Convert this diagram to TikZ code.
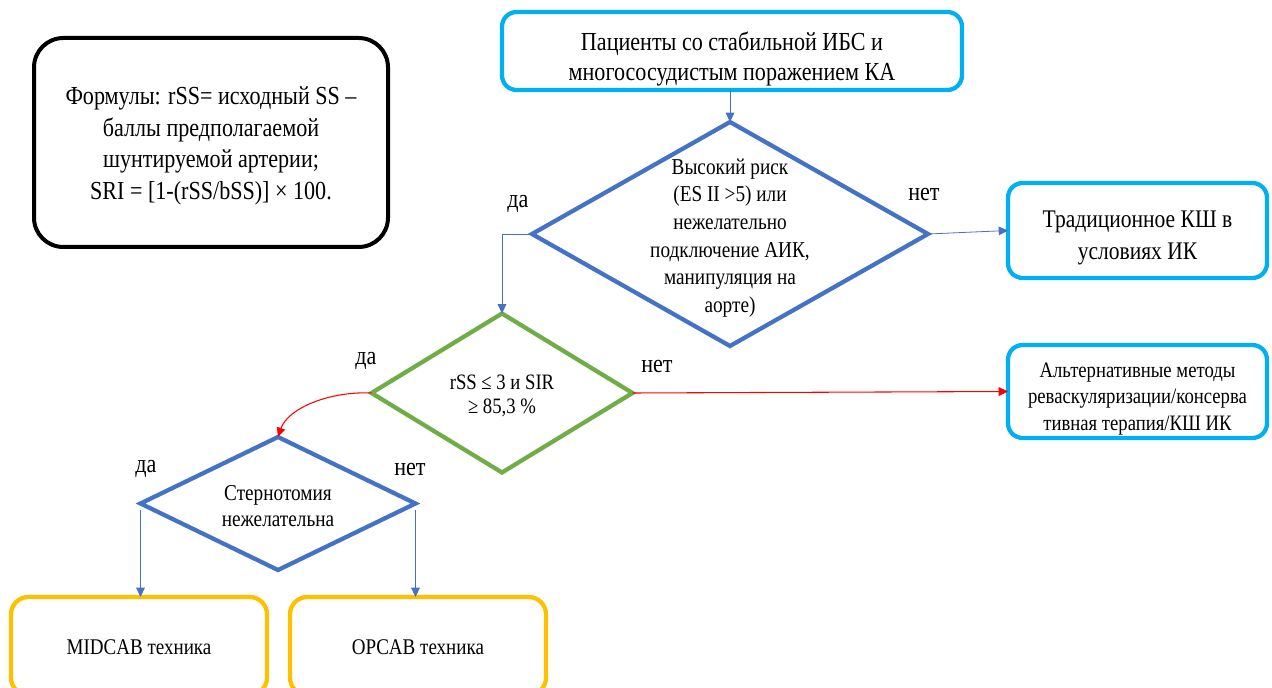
\documentclass[tikz,border=0pt]{standalone}
\usepackage{fontspec}
\setmainfont[FakeStretch=0.85]{Liberation Serif}
\usetikzlibrary{shapes.geometric,arrows.meta}
\definecolor{cyanb}{HTML}{00B0F0}
\definecolor{blueb}{HTML}{4472C4}
\definecolor{greenb}{HTML}{70AD47}
\definecolor{yellb}{HTML}{FFC000}
\definecolor{redb}{HTML}{FF0000}
\tikzset{
  rbox/.style={draw=cyanb, line width=3.2pt, rounded corners=11pt, inner sep=0pt, outer sep=0pt},
  ybox/.style={draw=yellb, line width=3.2pt, rounded corners=13pt, inner sep=0pt, outer sep=0pt},
  dia/.style={diamond, draw, line width=3.2pt, inner sep=0pt, outer sep=0pt},
  txt/.style={align=center, inner sep=0pt},
  conn/.style={draw=blueb, line width=0.6pt, -{Triangle[length=7pt,width=6.5pt]}},
  rconn/.style={draw=redb, line width=0.8pt, -{Triangle[length=7pt,width=6.5pt]}},
  lbl/.style={font=\fontsize{19.5}{23}\selectfont, inner sep=0pt},
}
\begin{document}
\begin{tikzpicture}[x=0.75pt,y=-0.75pt]
\useasboundingbox (0,0) rectangle (1272,688);
\begin{scope}
\clip (0,0) rectangle (1272,688);
% formula box
\node[draw=black, line width=3pt, rounded corners=22pt, minimum width=265.5pt, minimum height=156.75pt, inner sep=0pt, outer sep=0pt] (form) at (211,142.5) {};
\node[txt, font=\fontsize{19.5}{23.6}\selectfont] (formt) at (211,146)
  {Формулы: rSS= исходный SS –\\ баллы предполагаемой\\ шунтируемой артерии;\\ SRI = [1-(rSS/bSS)] × 100.};
% top box
\node[rbox, minimum width=345pt, minimum height=58.5pt] (top) at (732,51) {};
\node[txt, font=\fontsize{19.5}{22.5}\selectfont] (topt) at (732,59)
  {Пациенты со стабильной ИБС и\\ многососудистым поражением КА};
% diamond 1
\node[dia, draw=blueb, minimum width=297pt, minimum height=168pt] (d1) at (730,234) {};
\node[txt, font=\fontsize{17}{20.8}\selectfont] (t1) at (730,238)
  {Высокий риск\\ (ES II >5) или\\ нежелательно\\ подключение АИК,\\ манипуляция на\\ аорте)};
% box 2
\node[rbox, minimum width=194.25pt, minimum height=71.25pt] (b2) at (1137.5,230.5) {};
\node[txt, font=\fontsize{19}{24.5}\selectfont] (b2t) at (1137.5,238)
  {Традиционное КШ в\\ условиях ИК};
% diamond 2
\node[dia, draw=greenb, minimum width=195.75pt, minimum height=119.25pt] (d2) at (502,393) {};
\node[txt, font=\fontsize{16.5}{18}\selectfont] (t2) at (502,396)
  {rSS ≤ 3 и SIR\\ ≥ 85,3 \%};
% box 3
\node[rbox, minimum width=194.25pt, minimum height=69.75pt] (b3) at (1137.5,391.5) {};
\node[txt, font=\fontsize{16.5}{19.8}\selectfont] (b3t) at (1137.5,399)
  {Альтернативные методы\\ реваскуляризации/консерва\\ тивная терапия/КШ ИК};
% diamond 3
\node[dia, draw=blueb, minimum width=206.25pt, minimum height=99.75pt] (d3) at (278,503.5) {};
\node[txt, font=\fontsize{17}{19}\selectfont] (t3) at (278,506)
  {Стернотомия\\ нежелательна};
% bottom boxes
\node[ybox, minimum width=192pt, minimum height=73.5pt] (mid) at (139,646) {};
\node[txt, font=\fontsize{16.8}{19}\selectfont] (midt) at (139,647) {MIDCAB техника};
\node[ybox, minimum width=192pt, minimum height=73.5pt] (opc) at (418,646) {};
\node[txt, font=\fontsize{16.8}{19}\selectfont] (opct) at (418,647) {OPCAB техника};
\end{scope}
% labels
\node[lbl] (l1) at (518,204) {да};
\node[lbl] (l2) at (924,195) {нет};
\node[lbl] (l3) at (366,361) {да};
\node[lbl] (l4) at (657,367) {нет};
\node[lbl] (l5) at (146,469) {да};
\node[lbl] (l6) at (410,469) {нет};
% connectors
\draw[conn] (d1.north |- top.south) -- (d1.north);
\draw[conn] (d1.east) -- (b2.west);
\draw[conn] (d1.west) -| (d2.north);
\draw[rconn] (d2.east) -- (b3.west);
\draw[rconn] (d2.west) .. controls (330,391) and (288,408) .. (d3.north);
\draw[conn] ([yshift=-5pt]d3.west) -- (d3.west |- mid.north);
\draw[conn] ([yshift=-5pt]d3.east) -- (d3.east |- opc.north);
\end{tikzpicture}
\end{document}
